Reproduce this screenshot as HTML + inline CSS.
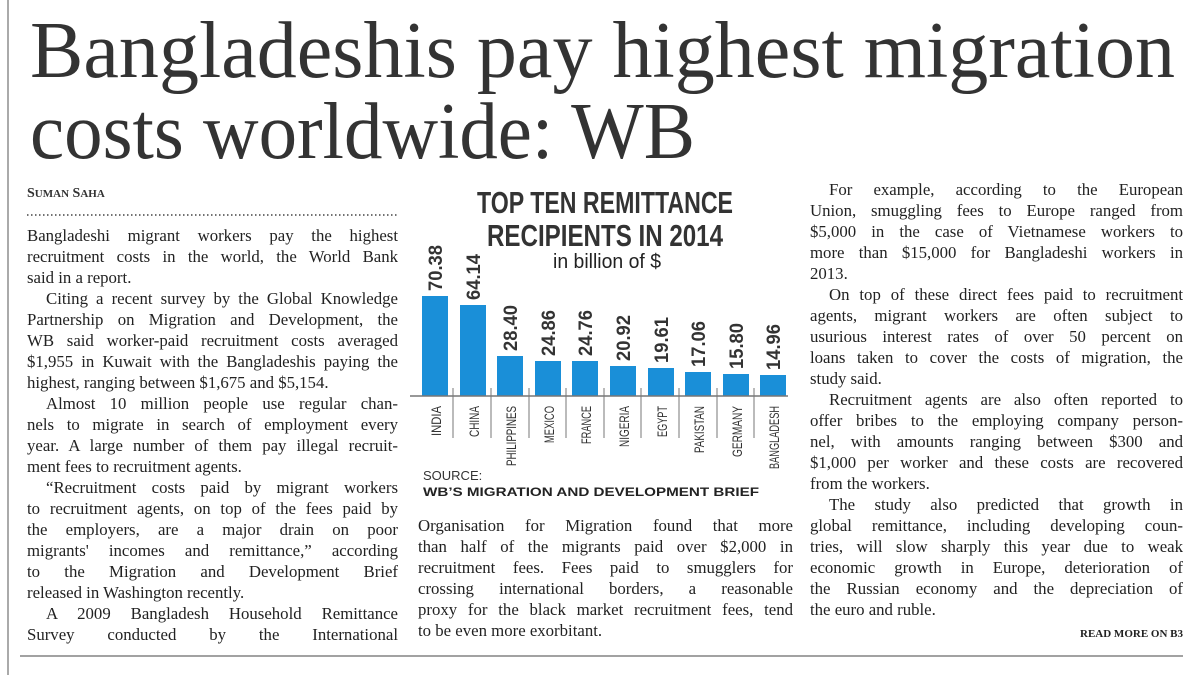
<!DOCTYPE html>
<html><head><meta charset="utf-8"><style>
body{margin:0;width:1194px;height:675px;background:#fff;position:relative;overflow:hidden;font-family:"Liberation Serif",serif;color:#222}
.col{position:absolute;font-size:16.8px;line-height:21px}
.col div{white-space:nowrap;text-align:justify;text-align-last:justify;height:21px}
.col div.l{text-align-last:left}
.col div.i{text-indent:19px}
</style></head><body>
<svg width="1194" height="675" style="position:absolute;left:0;top:0">
<line x1="8" y1="0" x2="8" y2="675" stroke="#555" stroke-width="1"/>
<text x="30" y="77" font-family="Liberation Serif" font-size="80" fill="#333" textLength="1145" lengthAdjust="spacingAndGlyphs">Bangladeshis pay highest migration</text>
<text x="30" y="158" font-family="Liberation Serif" font-size="80" fill="#333" textLength="665" lengthAdjust="spacingAndGlyphs">costs worldwide: WB</text>
<text x="27" y="197" font-family="Liberation Serif" font-size="14" font-weight="bold" fill="#333">S<tspan font-size="11">UMAN</tspan> S<tspan font-size="11">AHA</tspan></text>
<line x1="27" y1="215" x2="398" y2="215" stroke="#444" stroke-width="1.5" stroke-dasharray="1.5,2.5"/>
<g font-family="Liberation Sans Narrow, Liberation Sans, sans-serif" fill="#333">
<text x="605" y="213" font-size="31" font-weight="bold" text-anchor="middle" textLength="256" lengthAdjust="spacingAndGlyphs">TOP TEN REMITTANCE</text>
<text x="605" y="246" font-size="31" font-weight="bold" text-anchor="middle" textLength="236" lengthAdjust="spacingAndGlyphs">RECIPIENTS IN 2014</text>
<text x="607" y="268" font-size="20" text-anchor="middle" fill="#222" textLength="108" lengthAdjust="spacingAndGlyphs">in billion of $</text>
</g>
<g fill="#1a8fd8">
<rect x="422" y="296" width="26" height="100"/>
<rect x="460" y="305" width="26" height="91"/>
<rect x="497" y="356" width="26" height="40"/>
<rect x="535" y="361" width="26" height="35"/>
<rect x="572" y="361" width="26" height="35"/>
<rect x="610" y="366" width="26" height="30"/>
<rect x="648" y="368" width="26" height="28"/>
<rect x="685" y="372" width="26" height="24"/>
<rect x="723" y="374" width="26" height="22"/>
<rect x="760" y="375" width="26" height="21"/>
</g>
<line x1="410" y1="396" x2="788" y2="396" stroke="#777" stroke-width="1.5"/>
<g stroke="#777" stroke-width="1">
<line x1="453" y1="388" x2="453" y2="438"/><line x1="491" y1="388" x2="491" y2="438"/><line x1="529" y1="388" x2="529" y2="438"/><line x1="566" y1="388" x2="566" y2="438"/><line x1="604" y1="388" x2="604" y2="438"/><line x1="641" y1="388" x2="641" y2="438"/><line x1="679" y1="388" x2="679" y2="438"/><line x1="717" y1="388" x2="717" y2="438"/><line x1="754" y1="388" x2="754" y2="438"/>
</g>
<g font-family="Liberation Sans Narrow, Liberation Sans, sans-serif" font-size="19" font-weight="bold" fill="#333">
<text transform="translate(442,291) rotate(-90)" textLength="46" lengthAdjust="spacingAndGlyphs">70.38</text>
<text transform="translate(480,300) rotate(-90)" textLength="46" lengthAdjust="spacingAndGlyphs">64.14</text>
<text transform="translate(517,351) rotate(-90)" textLength="46" lengthAdjust="spacingAndGlyphs">28.40</text>
<text transform="translate(555,356) rotate(-90)" textLength="46" lengthAdjust="spacingAndGlyphs">24.86</text>
<text transform="translate(592,356) rotate(-90)" textLength="46" lengthAdjust="spacingAndGlyphs">24.76</text>
<text transform="translate(630,361) rotate(-90)" textLength="46" lengthAdjust="spacingAndGlyphs">20.92</text>
<text transform="translate(668,363) rotate(-90)" textLength="46" lengthAdjust="spacingAndGlyphs">19.61</text>
<text transform="translate(705,367) rotate(-90)" textLength="46" lengthAdjust="spacingAndGlyphs">17.06</text>
<text transform="translate(743,369) rotate(-90)" textLength="46" lengthAdjust="spacingAndGlyphs">15.80</text>
<text transform="translate(780,370) rotate(-90)" textLength="46" lengthAdjust="spacingAndGlyphs">14.96</text>
</g>
<g font-family="Liberation Sans Narrow, Liberation Sans, sans-serif" font-size="14" fill="#333" text-anchor="end">
<text transform="translate(441,406) rotate(-90)" textLength="30" lengthAdjust="spacingAndGlyphs">INDIA</text>
<text transform="translate(479,406) rotate(-90)" textLength="31" lengthAdjust="spacingAndGlyphs">CHINA</text>
<text transform="translate(516,406) rotate(-90)" textLength="60" lengthAdjust="spacingAndGlyphs">PHILIPPINES</text>
<text transform="translate(554,406) rotate(-90)" textLength="37" lengthAdjust="spacingAndGlyphs">MEXICO</text>
<text transform="translate(591,406) rotate(-90)" textLength="38" lengthAdjust="spacingAndGlyphs">FRANCE</text>
<text transform="translate(629,406) rotate(-90)" textLength="41" lengthAdjust="spacingAndGlyphs">NIGERIA</text>
<text transform="translate(667,406) rotate(-90)" textLength="31" lengthAdjust="spacingAndGlyphs">EGYPT</text>
<text transform="translate(704,406) rotate(-90)" textLength="47" lengthAdjust="spacingAndGlyphs">PAKISTAN</text>
<text transform="translate(742,406) rotate(-90)" textLength="51" lengthAdjust="spacingAndGlyphs">GERMANY</text>
<text transform="translate(779,406) rotate(-90)" textLength="63" lengthAdjust="spacingAndGlyphs">BANGLADESH</text>
</g>
<text x="423" y="480" font-family="Liberation Sans" font-size="13" fill="#333">SOURCE:</text>
<text x="423" y="496" font-family="Liberation Sans" font-size="12" font-weight="bold" fill="#222" textLength="336" lengthAdjust="spacingAndGlyphs">WB’S MIGRATION AND DEVELOPMENT BRIEF</text>
<text x="1183" y="637" font-family="Liberation Serif" font-size="11" font-weight="bold" fill="#222" text-anchor="end">READ MORE ON B3</text>
<line x1="20" y1="656" x2="1183" y2="656" stroke="#444" stroke-width="1"/>
</svg>
<div class="col" style="left:27px;top:225px;width:371px">
<div>Bangladeshi migrant workers pay the highest</div>
<div>recruitment costs in the world, the World Bank</div>
<div class="l">said in a report.</div>
<div class="i">Citing a recent survey by the Global Knowledge</div>
<div>Partnership on Migration and Development, the</div>
<div>WB said worker-paid recruitment costs averaged</div>
<div>$1,955 in Kuwait with the Bangladeshis paying the</div>
<div class="l">highest, ranging between $1,675 and $5,154.</div>
<div class="i">Almost 10 million people use regular chan-</div>
<div>nels to migrate in search of employment every</div>
<div>year. A large number of them pay illegal recruit-</div>
<div class="l">ment fees to recruitment agents.</div>
<div class="i">“Recruitment costs paid by migrant workers</div>
<div>to recruitment agents, on top of the fees paid by</div>
<div>the employers, are a major drain on poor</div>
<div>migrants' incomes and remittance,” according</div>
<div>to the Migration and Development Brief</div>
<div class="l">released in Washington recently.</div>
<div class="i">A 2009 Bangladesh Household Remittance</div>
<div>Survey conducted by the International</div>
</div>
<div class="col" style="left:418px;top:515px;width:375px">
<div>Organisation for Migration found that more</div>
<div>than half of the migrants paid over $2,000 in</div>
<div>recruitment fees. Fees paid to smugglers for</div>
<div>crossing international borders, a reasonable</div>
<div>proxy for the black market recruitment fees, tend</div>
<div class="l">to be even more exorbitant.</div>
</div>
<div class="col" style="left:810px;top:179px;width:373px">
<div class="i">For example, according to the European</div>
<div>Union, smuggling fees to Europe ranged from</div>
<div>$5,000 in the case of Vietnamese workers to</div>
<div>more than $15,000 for Bangladeshi workers in</div>
<div class="l">2013.</div>
<div class="i">On top of these direct fees paid to recruitment</div>
<div>agents, migrant workers are often subject to</div>
<div>usurious interest rates of over 50 percent on</div>
<div>loans taken to cover the costs of migration, the</div>
<div class="l">study said.</div>
<div class="i">Recruitment agents are also often reported to</div>
<div>offer bribes to the employing company person-</div>
<div>nel, with amounts ranging between $300 and</div>
<div>$1,000 per worker and these costs are recovered</div>
<div class="l">from the workers.</div>
<div class="i">The study also predicted that growth in</div>
<div>global remittance, including developing coun-</div>
<div>tries, will slow sharply this year due to weak</div>
<div>economic growth in Europe, deterioration of</div>
<div>the Russian economy and the depreciation of</div>
<div class="l">the euro and ruble.</div>
</div>
</body></html>
